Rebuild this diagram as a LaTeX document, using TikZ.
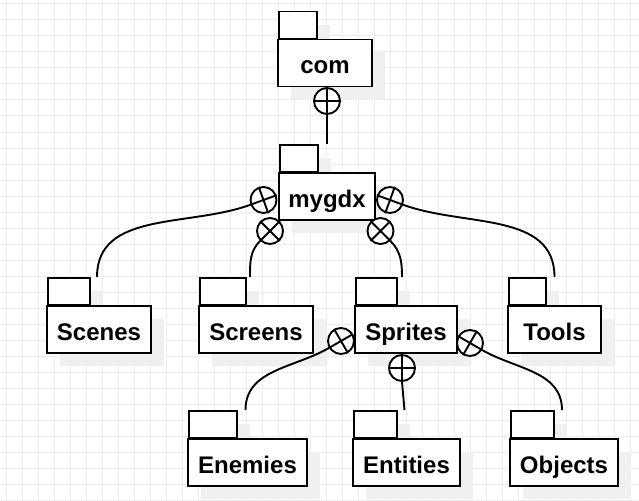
\documentclass[tikz,border=0pt]{standalone}
\usepackage{fontspec}
\setmainfont{Liberation Sans}
\usepackage{tikz}
\usetikzlibrary{%
  shadows,%
  calc%
}
\tikzset{
  gridline/.style={draw=black!7, line width=1pt},
  pkg/.style={draw, fill=white, line width=1.9pt, inner sep=0pt, minimum height=47pt,
    font=\fontsize{24}{28}\selectfont\bfseries, text height=23pt, text depth=2pt,
    drop shadow={shadow xshift=13pt, shadow yshift=-13pt, fill=black!6, opacity=1}},
  pkgtab/.style={draw, fill=white, line width=1.9pt, inner sep=0pt, minimum height=27pt,
    anchor=south west,
    drop shadow={shadow xshift=13pt, shadow yshift=-13pt, fill=black!6, opacity=1}},
  contain/.style={draw, circle, fill=white, line width=1.9pt, inner sep=0pt, minimum size=26pt},
  link/.style={line width=1.9pt}
}
% package: name, x, y, width, label
\newcommand{\package}[5]{%
  \node[pkgtab, minimum width={0.4*#4pt}] (#1-tab) at ({#2-#4/2},{#3-23.5}) {};
  \node[pkg, minimum width=#4pt] (#1) at (#2,#3) {#5};
  \coordinate (#1-top) at (#1.north |- #1-tab.north);
}
% containment circle: name, x, y, angle of the link
\newcommand{\contain}[4]{%
  \node[contain] (#1) at (#2,#3) {};
  \draw[line width=1.9pt] (#1.#4) -- (#1.{#4+180}) (#1.{#4+90}) -- (#1.{#4+270});
}

\begin{document}
\begin{tikzpicture}[x=1pt, y=-1pt]
\useasboundingbox (0,0) rectangle (639,500);
\fill[white] (0,0) rectangle (639,500);
\foreach \x in {6,22,...,630} \draw[gridline] (\x,0) -- (\x,500);
\foreach \y in {4,20,...,500} \draw[gridline] (0,\y) -- (639,\y);

\package{com}{325}{63}{94}{com}
\package{mygdx}{327}{196.5}{96}{mygdx}
\package{scenes}{99}{329.5}{104}{Scenes}
\package{screens}{256}{329.5}{114}{Screens}
\package{sprites}{406}{329.5}{102}{Sprites}
\package{tools}{554.5}{329.5}{93}{Tools}
\package{enemies}{247.5}{462.5}{119}{Enemies}
\package{entities}{406.5}{462.5}{107}{Entities}
\package{objects}{564}{462.5}{108}{Objects}

\contain{c-com}{327}{101}{270}
\contain{c-scenes}{263.5}{200}{200}
\contain{c-screens}{270}{231}{225}
\contain{c-sprites}{380.5}{231}{315}
\contain{c-tools}{390}{200}{340}
\contain{c-enemies}{341}{341}{210}
\contain{c-entities}{402}{368}{270}
\contain{c-objects}{470}{343}{330}

\draw[link] (c-com.270) -- (mygdx-top);
\draw[link] (c-scenes.200) to[out=200, in=90] ($(scenes-top)+(-2,0)$);
\draw[link] (c-screens.225) to[out=225, in=90] ($(screens-top)+(-6,0)$);
\draw[link] (c-sprites.315) to[out=315, in=90] ($(sprites-top)+(-4,0)$);
\draw[link] (c-tools.340) to[out=340, in=90] (tools-top);
\draw[link] (c-enemies.210) to[out=210, in=90] ($(enemies-top)+(-2,0)$);
\draw[link] (c-entities.270) -- ($(entities-top)+(-2,0)$);
\draw[link] (c-objects.330) to[out=330, in=90] ($(objects-top)+(-2,0)$);
\end{tikzpicture}
\end{document}
